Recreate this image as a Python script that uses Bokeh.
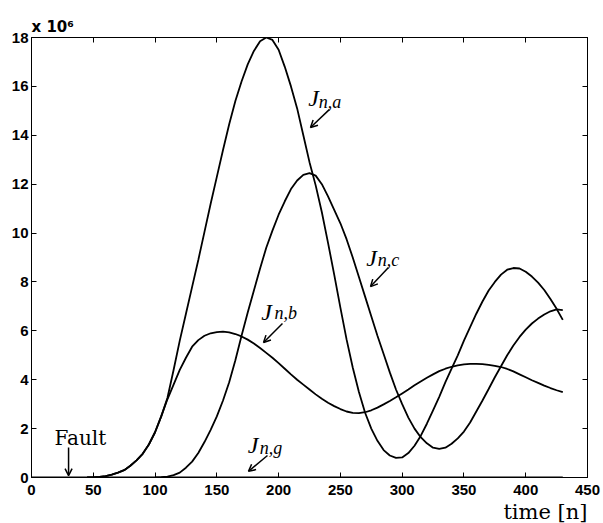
from bokeh.plotting import figure
from bokeh.models import Range1d, FixedTicker, LinearAxis, Label, Arrow, OpenHead, Title
from bokeh.embed import file_html
from bokeh.resources import INLINE

# ---- data (values in units of 1e6) ----
n_ab = list(range(45, 435, 5))
J_a = [0.0, 0.0, 0.02, 0.06, 0.12, 0.2, 0.3, 0.48, 0.7, 0.97,
       1.35, 1.85, 2.5, 3.25, 4.4, 5.6, 6.7, 7.8, 8.9, 10.05,
       11.2, 12.3, 13.4, 14.45, 15.4, 16.2, 16.9, 17.45, 17.85, 18.0,
       17.9, 17.5, 16.8, 16.0, 15.1, 14.0, 12.9, 11.95, 10.85, 9.6,
       8.3, 6.95, 5.65, 4.5, 3.5, 2.65, 2.0, 1.5, 1.12, 0.9,
       0.8, 0.82, 1.0, 1.3, 1.7, 2.2, 2.75, 3.3, 3.9, 4.45,
       5.0, 5.6, 6.15, 6.7, 7.2, 7.65, 8.0, 8.3, 8.5, 8.57,
       8.55, 8.42, 8.22, 7.97, 7.67, 7.3, 6.9, 6.45]
J_b = [0.0, 0.0, 0.02, 0.06, 0.12, 0.2, 0.3, 0.48, 0.7, 0.97,
       1.35, 1.85, 2.5, 3.2, 3.8, 4.4, 4.9, 5.35, 5.62, 5.8,
       5.9, 5.95, 5.97, 5.94, 5.87, 5.77, 5.64, 5.48, 5.3, 5.1,
       4.9, 4.68, 4.45, 4.22, 4.0, 3.8, 3.6, 3.4, 3.22, 3.06,
       2.92, 2.8, 2.7, 2.64, 2.63, 2.67, 2.75, 2.86, 2.99, 3.13,
       3.28, 3.44, 3.6, 3.77, 3.93, 4.08, 4.22, 4.35, 4.45, 4.53,
       4.59, 4.63, 4.65, 4.65, 4.64, 4.61, 4.57, 4.52, 4.44, 4.34,
       4.22, 4.1, 3.98, 3.87, 3.76, 3.66, 3.57, 3.49]
n_c = list(range(100, 435, 5))
J_c = [0.0, 0.01, 0.04, 0.1, 0.2, 0.4, 0.65, 1.0, 1.45, 1.95,
       2.5, 3.15, 3.9, 4.8, 5.8, 6.75, 7.65, 8.55, 9.4, 10.1,
       10.75, 11.3, 11.8, 12.15, 12.38, 12.45, 12.35, 12.0, 11.5, 10.95,
       10.4, 9.75, 9.0, 8.2, 7.4, 6.6, 5.8, 5.05, 4.3, 3.6,
       3.0, 2.45, 2.0, 1.65, 1.4, 1.22, 1.17, 1.22, 1.38, 1.6,
       1.88, 2.25, 2.7, 3.15, 3.62, 4.1, 4.55, 5.0, 5.4, 5.75,
       6.05, 6.3, 6.5, 6.67, 6.8, 6.88, 6.85]
n_g = [0, 430]
J_g = [0.0, 0.0]

x_ticks = [0, 50, 100, 150, 200, 250, 300, 350, 400, 450]
y_ticks = [0, 2, 4, 6, 8, 10, 12, 14, 16, 18]
fault_n = 30

p = figure(width=603, height=523, x_range=Range1d(0, 450), y_range=Range1d(0, 18),
           output_backend="svg", toolbar_location=None,
           min_border_left=31, min_border_right=16, min_border_top=37, min_border_bottom=46)
p.grid.visible = False
p.outline_line_color = "black"
p.outline_line_width = 1
p.background_fill_color = "white"
p.border_fill_color = "white"

def style(ax, ticks, show_labels=True, standoff=3):
    ax.ticker = FixedTicker(ticks=ticks)
    ax.major_tick_in = 5
    ax.major_tick_out = 0
    ax.minor_tick_line_color = None
    ax.axis_line_color = "black"
    ax.major_tick_line_color = "black"
    ax.major_label_standoff = standoff
    if show_labels:
        ax.major_label_text_font = "Liberation Sans"
        ax.major_label_text_font_style = "bold"
        ax.major_label_text_font_size = "15px"
        ax.major_label_text_color = "black"
    else:
        ax.major_label_text_color = None
        ax.major_label_standoff = 0

style(p.xaxis[0], x_ticks, True, 7)
style(p.yaxis[0], y_ticks, True, 3)
top = LinearAxis()
style(top, x_ticks, False)
p.add_layout(top, "above")
right = LinearAxis()
style(right, y_ticks, False)
p.add_layout(right, "right")

p.add_layout(Title(text="x 10\u2076", align="left", text_font="DejaVu Sans",
                   text_font_style="bold", text_font_size="15px", text_color="black",
                   standoff=4), "above")
p.add_layout(Title(text="time [n]", align="right", text_font="DejaVu Serif",
                   text_font_style="normal", text_font_size="21px", text_color="black",
                   standoff=0), "below")

lw = 1.8
p.line(n_ab, J_a, line_color="black", line_width=lw)
p.line(n_ab, J_b, line_color="black", line_width=lw)
p.line(n_c, J_c, line_color="black", line_width=lw)
p.line(n_g, J_g, line_color="black", line_width=lw)

serif = "Liberation Serif"

def jlabel(x, y, xs, ys, sub):
    p.add_layout(Label(x=x, y=y, text="J", text_font=serif, text_font_style="italic",
                       text_font_size="24px", text_align="left", text_baseline="alphabetic",
                       text_color="black"))
    p.add_layout(Label(x=xs, y=ys, text=sub, text_font=serif, text_font_style="italic",
                       text_font_size="18px", text_align="left", text_baseline="alphabetic",
                       text_color="black"))

jlabel(224.0, 15.51, 232.4, 15.38, "n,a")
jlabel(270.9, 9.0, 280.2, 8.88, "n,c")
jlabel(186.0, 6.76, 196.6, 6.71, "n,b")
jlabel(175.0, 1.31, 184.8, 1.19, "n,g")

def arrow(x0, y0, x1, y1):
    p.add_layout(Arrow(end=OpenHead(size=7, line_width=1.5, line_color="black"),
                       x_start=x0, y_start=y0, x_end=x1, y_end=y1,
                       line_width=1.5, line_color="black"))

arrow(241.2, 15.06, 225.8, 14.32)
arrow(288.9, 8.59, 274.4, 7.81)
arrow(203.1, 6.30, 187.8, 5.52)
arrow(191.0, 0.90, 175.6, 0.25)
arrow(fault_n, 1.23, fault_n, 0.08)

p.add_layout(Label(x=18.6, y=1.6, text="Fault", text_font="DejaVu Serif",
                   text_font_size="20px", text_align="left", text_baseline="alphabetic",
                   text_color="black"))

open("out.html", "w").write(file_html(p, INLINE))
